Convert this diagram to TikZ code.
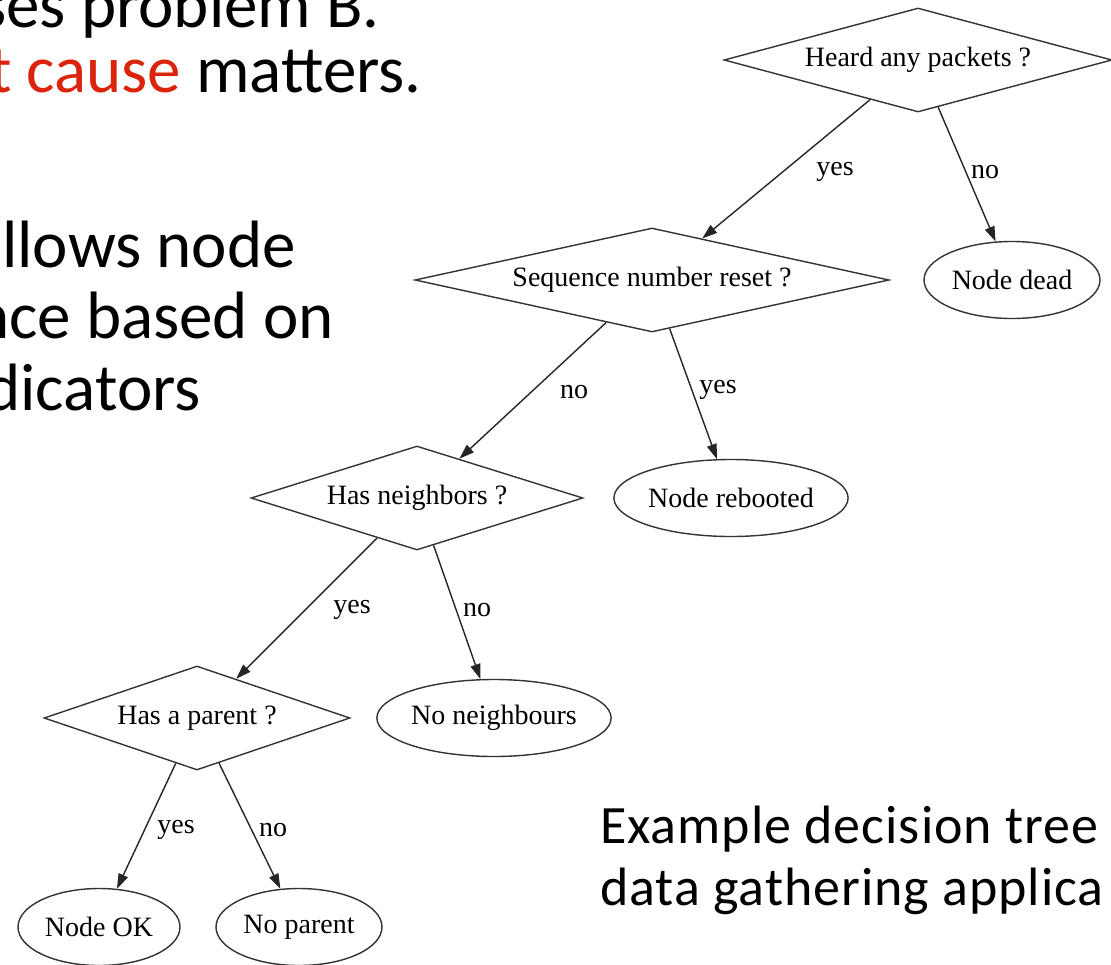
\documentclass[tikz,border=0pt]{standalone}
\usepackage{fontspec}
\setmainfont{Liberation Serif}
\newfontfamily\slidefont{Carlito}
\newfontfamily\captionfont[LetterSpace=1.8]{Carlito}
\usepackage{tikz}
\usetikzlibrary{shapes.geometric,arrows.meta}
\definecolor{slideRed}{RGB}{218,36,12}
\tikzset{
  dBase/.style={draw=black!80,line width=1.4pt,inner sep=0pt,
        font=\fontsize{28}{30}\selectfont},
  dDecide/.style={dBase,diamond,minimum height=104pt},
  dLeaf/.style={dBase,ellipse,minimum height=77pt},
  dEdge/.style={line width=1.4pt,draw=black!85,
        -{Triangle[length=15pt,width=10pt]}},
  dLabel/.style={font=\fontsize{28}{30}\selectfont,inner sep=0pt},
  sText/.style={font=\slidefont\fontsize{67}{71}\selectfont,inner sep=0pt,
        anchor=base east},
  sCaption/.style={font=\captionfont\fontsize{54}{62}\selectfont,inner sep=0pt,
        anchor=base west},
}
\begin{document}
\begin{tikzpicture}[x=1pt,y=-1pt]
\useasboundingbox[fill=white] (0,0) rectangle (1111,964);
% slide text, cut at the edges
\node[sText] (t1) at (380,27)  {ses problem B.};
\node[sText] (t2) at (422,92)  {\textcolor{slideRed}{t cause} matters.};
\node[sText] (t3) at (296,267) {llows node};
\node[sText] (t4) at (334,338) {nce based on};
\node[sText] (t5) at (201,410) {dicators};
\node[sCaption] (c1) at (600,843) {Example decision tree};
\node[sCaption] (c2) at (600,905) {data gathering applica};

% decision tree
\node[dDecide,aspect=3.73,minimum width=388pt] (heard)  at (918,60)  {Heard any packets ?};
\node[dDecide,aspect=4.56,minimum width=474pt] (seq)    at (652,280) {Sequence number reset ?};
\node[dDecide,aspect=3.19,minimum width=332pt] (nbrs)   at (417,498) {Has neighbors ?};
\node[dDecide,aspect=2.94,minimum width=306pt] (parent) at (197,718) {Has a parent ?};
\node[dLeaf,minimum width=176pt] (dead)   at (1012,280) {Node dead};
\node[dLeaf,minimum width=216pt] (reboot) at (731,498)  {Node rebooted};
\node[dLeaf,minimum width=220pt] (noNbr)  at (494,718)  {No neighbours};
\node[dLeaf,minimum width=162pt] (ok)     at (99,927)   {Node OK};
\node[dLeaf,minimum width=166pt] (noPar)  at (299,927)  {No parent};

\draw[dEdge] (heard) -- (seq);
\draw[dEdge] (heard) -- (dead);
\draw[dEdge] (seq) -- (nbrs);
\draw[dEdge] (seq) -- (reboot);
\draw[dEdge] (nbrs) -- (parent);
\draw[dEdge] (nbrs) -- (noNbr);
\draw[dEdge] (parent) -- (ok);
\draw[dEdge] (parent) -- (noPar);

% edge labels
\node[dLabel] (lYes1) at (835,172) {yes};
\node[dLabel] (lNo1)  at (985,172) {no};
\node[dLabel] (lNo2)  at (574,392) {no};
\node[dLabel] (lYes2) at (718,390) {yes};
\node[dLabel] (lYes3) at (352,610) {yes};
\node[dLabel] (lNo3)  at (477,610) {no};
\node[dLabel] (lYes4) at (176,830) {yes};
\node[dLabel] (lNo4)  at (273,830) {no};
\end{tikzpicture}
\end{document}
